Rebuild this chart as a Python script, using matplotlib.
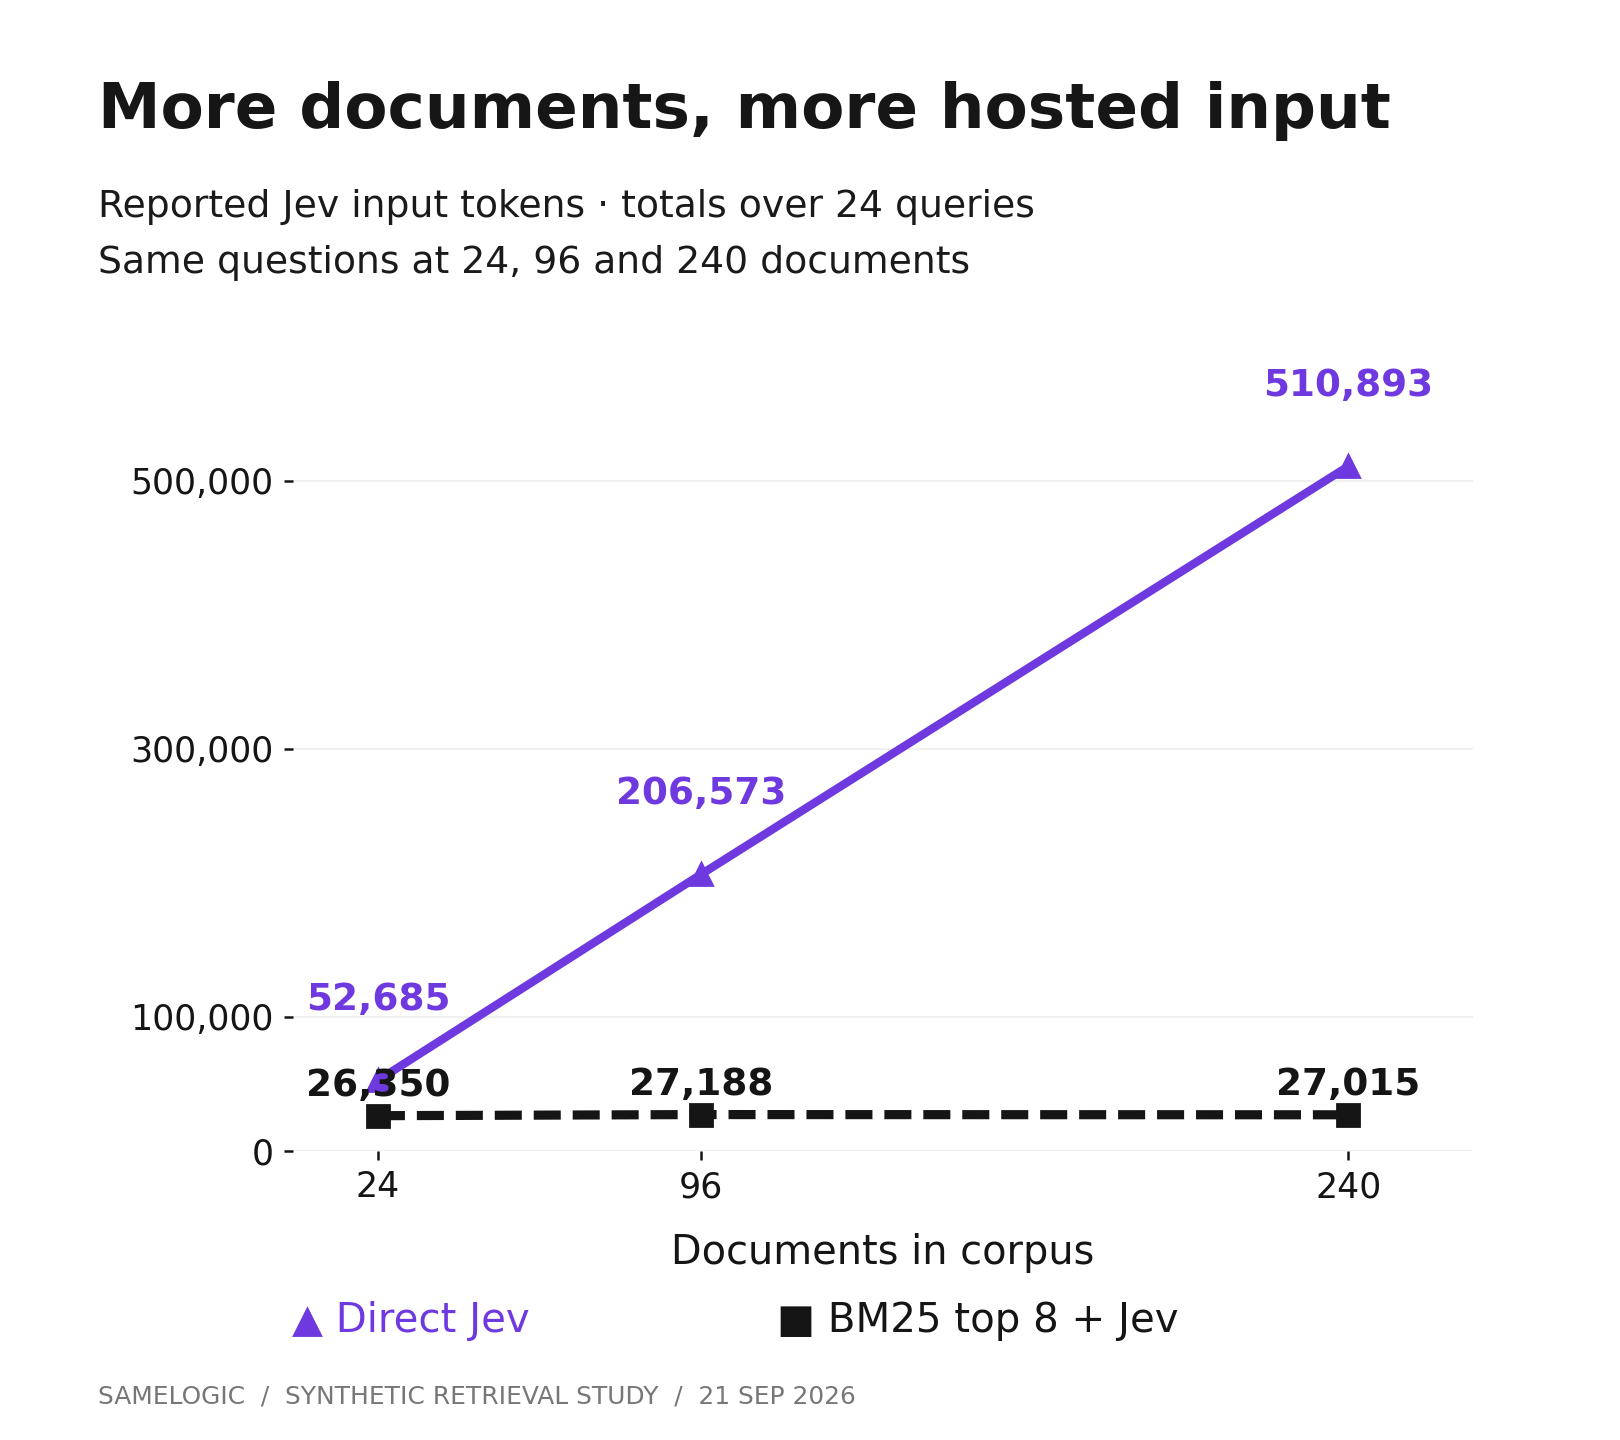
import matplotlib
matplotlib.use("Agg")
import matplotlib.pyplot as plt
from matplotlib.ticker import FuncFormatter

# ---- data ----
docs = [24, 96, 240]
direct_jev = [52685, 206573, 510893]
bm25_jev = [26350, 27188, 27015]
y_ticks = [0, 100000, 300000, 500000]
x_ticks = [24, 96, 240]

title = "More documents, more hosted input"
subtitle1 = "Reported Jev input tokens \u00b7 totals over 24 queries"
subtitle2 = "Same questions at 24, 96 and 240 documents"
xlabel = "Documents in corpus"
legend1 = "\u25b2 Direct Jev"
legend2 = "\u25a0 BM25 top 8 + Jev"
footer = "SAMELOGIC  /  SYNTHETIC RETRIEVAL STUDY  /  21 SEP 2026"

PURPLE = "#6e39de"
BLACK = "#151515"
W, H = 1620, 1440
DPI = 200

plt.rcParams['font.family'] = ['DejaVu Sans']

fig = plt.figure(figsize=(W / DPI, H / DPI), dpi=DPI)
fig.patch.set_facecolor("white")

def fx(x):
    return x / W

def fy(y):
    return 1 - y / H

# axes placement (pixels)
left, right, top, bottom = 293, 1473, 347, 1151
ax = fig.add_axes([fx(left), fy(bottom), (right - left) / W, (bottom - top) / H])
ax.set_xlim(5.1, 267.8)
ax.set_ylim(0, 600000)

for s in ax.spines.values():
    s.set_visible(False)

ax.set_yticks(y_ticks)
ax.set_xticks(x_ticks)
ax.yaxis.set_major_formatter(FuncFormatter(lambda v, p: f"{int(v):,}"))
ax.tick_params(axis='both', which='major', length=3.4, width=0.9, color=BLACK,
               labelcolor=BLACK, labelsize=12.5, pad=3.6)
ax.grid(axis='y', color="#eeeeee", linewidth=0.6)
ax.set_axisbelow(True)

ax.plot(docs, direct_jev, color=PURPLE, lw=3.0, marker='^', ms=8, mec=PURPLE,
        mfc=PURPLE, mew=1, clip_on=False, zorder=3)
ax.plot(docs, bm25_jev, color=BLACK, lw=3.3, marker='s', ms=7.6, mec=BLACK,
        mfc=BLACK, mew=1, clip_on=False, zorder=3, dashes=(2.95, 1.3))

for x, v in zip(docs, direct_jev):
    ax.annotate(f"{v:,}", (x, v), xytext=(0, 25.3), textcoords='offset points',
                ha='center', va='baseline', fontsize=13.45, fontweight='bold',
                color=PURPLE, zorder=4, annotation_clip=False)
for x, v in zip(docs, bm25_jev):
    ax.annotate(f"{v:,}", (x, v), xytext=(0, 7.1), textcoords='offset points',
                ha='center', va='baseline', fontsize=13.45, fontweight='bold',
                color=BLACK, zorder=4, annotation_clip=False)

fig.text(fx(98), fy(128), title, fontsize=22.65, fontweight='bold', color="#161616",
         ha='left', va='baseline')
fig.text(fx(98), fy(217), subtitle1, fontsize=13.6, color="#1a1a1a", ha='left', va='baseline')
fig.text(fx(98), fy(273), subtitle2, fontsize=13.6, color="#1a1a1a", ha='left', va='baseline')

fig.text(fx((left + right) / 2), fy(1264), xlabel, fontsize=14.35, color=BLACK,
         ha='center', va='baseline')

fig.text(fx(292), fy(1332), legend1, fontsize=14.5, color=PURPLE, ha='left', va='baseline')
fig.text(fx(777), fy(1332), legend2, fontsize=14.5, color=BLACK, ha='left', va='baseline')

fig.text(fx(98), fy(1403), footer, fontsize=8.95, color="#777777", ha='left', va='baseline')

fig.savefig("out.png", dpi=DPI, facecolor="white")
